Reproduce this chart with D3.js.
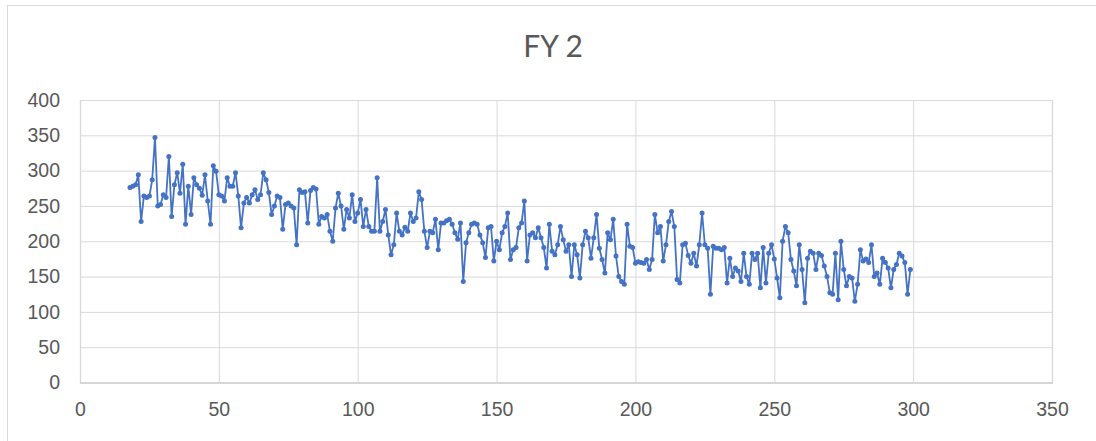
<!DOCTYPE html>
<html>
<head>
<meta charset="utf-8">
<script src="https://cdn.jsdelivr.net/npm/d3@7"></script>
<style>
  html, body { margin: 0; padding: 0; background: #ffffff; }
  svg { display: block; font-family: Lato, "Open Sans", "Liberation Sans", sans-serif; }
</style>
</head>
<body>
<svg id="chart" width="1096" height="441"></svg>
<script>
// Daily readings for FY 2, one per day starting at day 18
const firstDay = 18;
const readings = [
  276, 278, 280, 294, 228, 264, 262, 264, 287, 347,
  250, 252, 266, 262, 320, 235, 280, 297, 268, 309,
  224, 278, 238, 290, 280, 275, 265, 294, 257, 224,
  307, 299, 266, 264, 257, 290, 278, 278, 297, 264,
  219, 254, 262, 254, 266, 273, 259, 266, 297, 287,
  269, 238, 250, 264, 262, 217, 252, 254, 250, 247,
  195, 273, 269, 270, 226, 272, 276, 274, 224, 235,
  233, 238, 214, 200, 247, 268, 250, 217, 245, 233,
  266, 228, 240, 259, 221, 245, 221, 214, 214, 290,
  214, 228, 245, 209, 181, 195, 240, 214, 209, 220,
  214, 240, 228, 233, 270, 259, 214, 191, 214, 212,
  231, 188, 226, 226, 229, 231, 224, 212, 203, 226,
  143, 198, 212, 224, 226, 224, 209, 198, 177, 219,
  221, 172, 200, 188, 212, 221, 240, 174, 188, 191,
  219, 226, 257, 172, 209, 212, 205, 219, 205, 191,
  162, 224, 186, 181, 195, 221, 202, 186, 195, 150,
  195, 181, 148, 195, 214, 205, 176, 205, 238, 190,
  174, 155, 212, 202, 231, 179, 150, 143, 139, 224,
  193, 191, 169, 171, 170, 169, 174, 160, 174, 238,
  212, 221, 172, 195, 228, 242, 221, 146, 141, 195,
  197, 180, 169, 183, 165, 195, 240, 195, 190, 125,
  193, 190, 190, 188, 191, 141, 176, 150, 162, 158,
  143, 183, 150, 139, 183, 174, 183, 134, 191, 141,
  183, 195, 175, 148, 120, 200, 221, 212, 174, 158,
  137, 195, 160, 113, 176, 186, 183, 160, 183, 180,
  165, 150, 127, 125, 183, 117, 200, 160, 137, 150,
  148, 115, 139, 188, 172, 175, 170, 195, 150, 155,
  139, 176, 170, 162, 134, 160, 167, 183, 179, 170,
  125, 160
];

const chartTitle = "FY 2";
const xTicks = [0, 50, 100, 150, 200, 250, 300, 350];
const yTicks = [0, 50, 100, 150, 200, 250, 300, 350, 400];

const points = readings.map((v, i) => ({ day: firstDay + i, value: v }));

const svg = d3.select("#chart");
const W = 1096, H = 441;
const plot = { left: 80, right: 1052, top: 100, bottom: 382.5 };
const gridColor = "#d9d9d9";
const textColor = "#595959";
const seriesColor = "#4472c4";

// Outer chart frame
svg.append("rect")
  .attr("x", 7.5).attr("y", 5.5)
  .attr("width", W + 20).attr("height", H + 20)
  .attr("fill", "#ffffff")
  .attr("stroke", gridColor)
  .attr("stroke-width", 1);

const x = d3.scaleLinear().domain([0, 350]).range([plot.left, plot.right]);
const y = d3.scaleLinear().domain([0, 400]).range([plot.bottom, plot.top]);

// Horizontal gridlines + y labels
const yAxis = d3.axisLeft(y)
  .tickValues(yTicks)
  .tickSize(-(plot.right - plot.left))
  .tickPadding(20)
  .tickFormat(d3.format("d"));
const gy = svg.append("g")
  .attr("transform", `translate(${plot.left},0)`)
  .call(yAxis);
gy.select(".domain").remove();
gy.selectAll(".tick line").attr("stroke", gridColor).attr("stroke-width", 1);
gy.selectAll(".tick text")
  .attr("fill", textColor)
  .style("font-size", "19.5px");

// Vertical gridlines + x labels
const xAxis = d3.axisBottom(x)
  .tickValues(xTicks)
  .tickSize(-(plot.bottom - plot.top))
  .tickPadding(20)
  .tickFormat(d3.format("d"));
const gx = svg.append("g")
  .attr("transform", `translate(0,${plot.bottom})`)
  .call(xAxis);
gx.select(".domain").attr("stroke", "#bfbfbf").attr("stroke-width", 1.2);
gx.selectAll(".tick line").attr("stroke", gridColor).attr("stroke-width", 1);
gx.selectAll(".tick text")
  .attr("fill", textColor)
  .style("font-size", "19.5px");

// Title
svg.append("text")
  .attr("x", 553)
  .attr("y", 57)
  .attr("text-anchor", "middle")
  .attr("fill", textColor)
  .style("font-size", "30px")
  .text(chartTitle);

// Series line
const line = d3.line()
  .x(d => x(d.day))
  .y(d => y(d.value));

svg.append("path")
  .datum(points)
  .attr("fill", "none")
  .attr("stroke", seriesColor)
  .attr("stroke-width", 1.8)
  .attr("stroke-linejoin", "round")
  .attr("d", line);

// Markers
svg.append("g")
  .selectAll("circle")
  .data(points)
  .join("circle")
  .attr("cx", d => x(d.day))
  .attr("cy", d => y(d.value))
  .attr("r", 2.5)
  .attr("fill", seriesColor);
</script>
</body>
</html>
